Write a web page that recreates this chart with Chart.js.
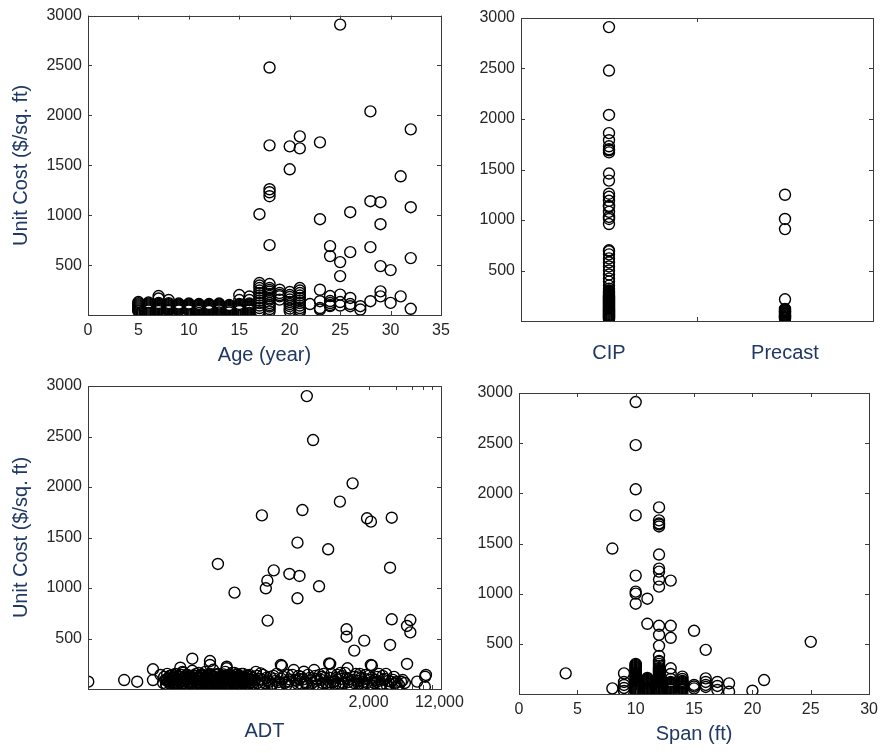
<!DOCTYPE html>
<html>
<head>
<meta charset="utf-8">
<title>Unit cost scatter plots</title>
<script src="https://cdn.jsdelivr.net/npm/chart.js@4.4.0/dist/chart.umd.min.js"></script>
<style>
    body { margin: 0; background: #fff; }
    #wrap { position: relative; width: 884px; height: 753px; }
    #wrap canvas { position: absolute; left: 0; top: 0; }
</style>
</head>
<body>
<div id="wrap">
    <canvas id="ageChart" width="884" height="753"></canvas>
    <canvas id="typeChart" width="884" height="753"></canvas>
    <canvas id="adtChart" width="884" height="753"></canvas>
    <canvas id="spanChart" width="884" height="753"></canvas>
</div>
<script>
// ---- data ----
var costTicks = [500, 1000, 1500, 2000, 2500, 3000];
var ageTicks = [0, 5, 10, 15, 20, 25, 30, 35];
var spanTicks = [0, 5, 10, 15, 20, 25, 30];
var typeLabels = ['CIP', 'Precast'];
var adtTickValues = [2000, 12000];
var adtTickLabels = ['2,000', '12,000'];
var adtMarks = [2000, 4000, 6000, 8000, 10000];

// [age (year), unit cost]
var ageCost = [
    [25,2910],[18,2480],[28,2040],[32,1860],[21,1790],[23,1730],[18,1700],[20,1690],[21,1670],[20,1460],[31,1390],
    [18,1260],[18,1230],[18,1190],[28,1140],[29,1130],[32,1080],[26,1030],[17,1010],[23,960],[29,910],
    [18,700],[24,690],[28,680],[26,630],[24,590],[32,570],[25,530],[29,490],[30,450],[25,390],
    [5,130],[5,118],[5,106],[5,96],[5,86],[5,76],[5,66],[5,56],[5,46],[5,38],
    [6,125],[6,114],[6,104],[6,94],[6,84],[6,74],[6,64],[6,54],[6,44],[6,20],
    [7,190],[7,165],[7,120],[7,110],[7,100],[7,90],[7,80],[7,70],[7,60],[7,50],[7,40],
    [8,150],[8,118],[8,108],[8,98],[8,88],[8,78],[8,68],[8,58],[8,48],[8,40],
    [9,115],[9,105],[9,95],[9,85],[9,75],[9,65],[9,55],[9,45],
    [10,115],[10,105],[10,95],[10,85],[10,75],[10,65],[10,55],[10,45],
    [11,110],[11,100],[11,90],[11,80],[11,70],[11,60],[11,50],[11,40],[11,20],
    [12,110],[12,100],[12,90],[12,80],[12,70],[12,60],[12,50],[12,40],
    [13,115],[13,105],[13,95],[13,85],[13,75],[13,65],[13,55],[13,45],[13,25],
    [14,100],[14,90],[14,80],[14,70],[14,60],[14,50],[14,40],[14,25],
    [15,200],[15,150],[15,110],[15,100],[15,90],[15,80],[15,70],[15,60],[15,50],[15,40],
    [16,185],[16,150],[16,115],[16,105],[16,95],[16,85],[16,75],[16,65],[16,55],[16,45],[16,20],
    [17,320],[17,295],[17,270],[17,245],[17,220],[17,195],[17,170],[17,145],[17,120],[17,95],[17,70],[17,45],[17,25],
    [18,310],[18,270],[18,250],[18,233],[18,210],[18,190],[18,170],[18,154],[18,120],[18,100],[18,85],[18,60],[18,35],
    [19,253],[19,220],[19,200],[19,187],[19,154],
    [20,230],[20,200],[20,180],[20,155],[20,130],[20,110],[20,90],[20,65],[20,40],
    [21,270],[21,245],[21,220],[21,195],[21,170],[21,145],[21,120],[21,95],[21,70],[21,50],[21,30],
    [22,110],[23,253],[23,138],[23,70],[23,55],[24,190],[24,140],[24,120],[24,100],[24,90],
    [25,204],[25,130],[25,95],[26,171],[26,110],[26,88],[27,88],[27,55],[28,138],[29,237],[29,187],[30,121],[31,187],[32,62]
];

// unit cost by construction type
var cipCost = [2910, 2480, 2040, 1860, 1790, 1730, 1700, 1690, 1670, 1460, 1390, 1260, 1230, 1190, 1140, 1130,
    1080, 1030, 1010, 960, 700, 690, 660, 620, 580, 540, 500, 460, 420, 390, 350, 320,
    300, 290, 280, 270, 260, 250, 240, 230, 220, 210, 200, 190, 180, 170, 160, 150, 140, 130, 120, 110,
    100, 90, 80, 70, 60, 50, 40, 30, 20];
var precastCost = [1250, 1010, 910, 215, 120, 112, 104, 96, 88, 80, 72, 64, 56, 48, 40, 32, 25];

// [ADT, unit cost]
var adtCost = [
    [418,2900],[490,2465],[1333,2036],[966,1855],[374,1772],[134,1719],[1920,1690],[2120,1657],[3590,1696],
    [330,1449],[718,1383],[44,1238],[3440,1201],[181,1175],[269,1139],[347,1119],[154,1073],[148,997],[570,1017],
    [67,954],[330,898],[155,677],[3590,690],[5750,683],[5290,624],[5750,561],[1144,591],[1144,518],[1790,479],
    [1390,380],[3440,436],[5290,248],[2170,231],[755,248],[222,228],
    [1.65,72],[4.1,89],[5.7,72],[8.5,195],[8.5,89],[10.3,139],[12.6,89],[17,211],[23,300],[36,277],[36,238],
    [55,221],[55,205],[72,10],
    [12,90],[12,40],[13,130],[14,60],[14,110],[15,30],[15,150],[16,80],[17,120],[18,50],[18,170],[19,100],
    [20,30],[20,140],[21,70],[22,110],[23,40],[23,180],[24,90],[25,130],[26,60],[27,20],[27,160],[28,100],
    [29,50],[30,130],[31,80],[32,30],[32,170],[33,110],[35,60],[36,140],[37,90],[38,30],[39,190],[40,120],
    [42,70],[43,40],[44,150],[46,100],[47,20],[48,60],[50,130],[52,90],[53,170],[55,40],[56,110],[58,70],
    [60,140],[62,30],[63,100],[65,60],[67,160],[69,110],[70,40],[72,80],[74,130],[76,20],[78,90],[80,150],
    [83,60],[85,110],[88,30],[90,80],[93,130],[96,50],[100,100],[104,70],[108,30],
    [11,60],[11.3,120],[11.6,90],[11.9,40],[12.2,150],[12.5,75],[12.8,105],[13.1,50],[13.5,135],[13.8,85],
    [14.2,30],[14.5,115],[14.9,65],[15.3,145],[15.7,95],[16.1,45],[16.5,125],[16.9,70],[17.3,100],[17.8,55],
    [18.2,160],[18.7,80],[19.2,110],[19.7,35],[20.2,140],[20.7,90],[21.2,60],[21.8,130],[22.3,75],[22.9,45],
    [23.5,115],[24.1,100],[24.7,50],[25.3,150],[26,85],[26.6,65],[27.3,125],[28,40],[28.7,105],[29.5,70],
    [30.2,140],[31,95],[31.8,55],[32.6,120],[33.4,80],[34.3,35],[35.2,110],[36.1,150],[37,60],[37.9,90],
    [38.9,130],[39.9,45],[40.9,100],[42,75],[43,145],[44.1,55],[45.3,115],[46.4,85],[47.6,40],[48.9,125],
    [50.1,65],[51.4,105],[52.7,30],[54.1,135],[55.5,95],[56.9,50],[58.4,120],[59.9,70],[61.4,110],[63,160],
    [64.6,80],[66.3,45],[68,100],[69.7,140],[71.5,60],[73.4,90],[75.3,125],[77.2,35],[79.2,115],[81.2,75],
    [83.3,150],[85.4,55],[87.6,105],[89.9,85],[92.2,130],[94.6,40],[97,95],[99.5,65],[102,120],[105,50],[108,110],
    [13.3,70],[14,140],[15,100],[16.3,55],[17.5,140],[19,75],[20.5,115],[22,50],[23.8,135],[25,80],
    [26.3,105],[27.7,55],[29,145],[30.6,70],[32.2,100],[33.8,135],[35.7,45],[37.5,115],[39.4,75],[41.5,140],
    [43.6,95],[45.8,30],[48.2,105],[50.8,145],[53.4,55],[56.2,130],[59,85],[62,120],[65.5,95],[69,65],
    [72.5,145],[76.2,100],[80,45],[84.3,125],[88.7,100],[93.4,70],[98,140],[103,90],
    [115,170],[120,60],[130,155],[135,90],[140,30],[150,110],[160,70],[170,40],[180,130],[190,80],[200,20],
    [217,238],[220,100],[240,60],[260,140],[280,30],[300,188],[310,90],[330,50],[360,120],[388,171],[400,70],
    [420,30],[450,110],[480,60],[503,188],[520,130],[560,40],[600,90],[640,150],[680,60],[735,254],[750,110],
    [800,30],[850,80],[900,140],[950,50],[1000,100],[1100,160],[1172,205],[1200,70],[1300,30],[1400,120],
    [1500,80],[1600,150],[1700,40],[1800,100],[1900,60],[2000,130],[2118,238],[2200,30],[2400,90],[2600,150],
    [2800,50],[3000,100],[3200,30],[3520,72],[3800,120],[4070,70],[4070,20],[4550,72],[4740,89],[6820,73],
    [8300,23],[8360,122],[8530,139],
    [112,90],[118,130],[125,45],[128,100],[138,140],[145,60],[155,85],[165,120],[175,50],[185,100],[195,150],
    [205,70],[230,120],[250,40],[270,95],[290,140],[320,80],[340,130],[370,45],[380,95],[430,140],[470,85],
    [490,30],[540,100],[580,140],[620,60],[660,110],[700,40],[780,150],[820,70],[880,110],[920,40],[980,160],
    [1050,60],[1150,110],[1250,40],[1350,90],[1450,150],[1550,50],[1650,110],[1750,70],[1850,140],[1950,30],
    [2050,90],[2300,60],[2500,120],[2700,40],[2900,90],[3100,150],[3400,50],[3700,90],[4300,40],[5000,60],
    [210,45],[265,75],[350,100],[410,55],[530,80],[610,120],[760,65],[860,45],[1020,130],[1200,95],
    [1380,60],[1580,125],[1780,45],[2150,110],[2450,70],[2850,130],[3300,80],[3900,55]
];

// [span (ft), unit cost]
var spanCost = [
    [10,2910],[10,2480],[10,2040],[12,1860],[10,1780],[12,1730],[12,1700],[12,1690],[12,1670],[8,1450],[12,1390],
    [12,1250],[12,1220],[10,1180],[12,1140],[13,1130],[12,1070],[10,1020],[10,1000],[11,950],[10,900],
    [11,700],[12,680],[13,680],[15,630],[12,590],[13,560],[25,520],[12,480],[16,440],[12,380],
    [4,206],[8,56],[9,206],[9,120],[9,90],[9,60],[9,30],
    [10,300],[10,290],[10,280],[10,270],[10,260],[10,250],[10,240],[10,230],[10,220],[10,210],[10,200],
    [10,190],[10,180],[10,170],[10,160],[10,150],[10,140],[10,130],[10,120],[10,110],[10,100],[10,90],
    [10,80],[10,70],[10,60],[10,50],[10,40],[10,30],
    [11,160],[11,150],[11,140],[11,130],[11,120],[11,110],[11,100],[11,90],[11,80],[11,70],[11,60],
    [11,50],[11,40],[11,30],[11,10],
    [12,330],[12,320],[12,300],[12,280],[12,260],[12,250],[12,240],[12,230],[12,220],[12,210],[12,200],
    [12,190],[12,180],[12,170],[12,160],[12,150],[12,140],[12,130],[12,120],[12,110],[12,100],[12,90],
    [12,80],[12,70],[12,60],[12,50],[12,40],[12,30],[12,10],
    [13,256],[13,200],[13,150],[13,120],[13,110],[13,100],[13,90],[13,80],[13,70],[13,60],[13,50],[13,40],[13,20],
    [14,173],[14,150],[14,130],[14,120],[14,110],[14,100],[14,90],[14,80],[14,70],[14,60],[14,50],[14,40],[14,7],
    [15,90],[15,75],[15,56],[16,156],[16,120],[16,90],[16,70],[17,120],[17,80],[17,40],[18,106],[18,23],
    [20,33],[21,139]
];

// ---- styling ----
var fontFamily = '"Liberation Sans", Arial, sans-serif';
var tickColor = '#262626';
var titleColor = '#1F3864';
var tickFont = { family: fontFamily, size: 16 };
var titleFont = { family: fontFamily, size: 20 };

Chart.defaults.font.family = fontFamily;
Chart.defaults.animation = false;

// box around the plot with small inward tick marks on all sides
var framePlugin = {
    id: 'frame',
    afterDraw: function (chart, args, opts) {
        var a = chart.chartArea;
        var ctx = chart.ctx;
        var xs = chart.scales.x, ys = chart.scales.y;
        ctx.save();
        ctx.strokeStyle = '#3a3a3a';
        ctx.lineWidth = 1;
        ctx.strokeRect(Math.round(a.left) + 0.5, Math.round(a.top) + 0.5,
            Math.round(a.right - a.left), Math.round(a.bottom - a.top));
        ctx.beginPath();
        (opts.xMarks || []).forEach(function (v) {
            var px = Math.round(xs.getPixelForValue(v)) + 0.5;
            ctx.moveTo(px, a.top); ctx.lineTo(px, a.top + 4);
            ctx.moveTo(px, a.bottom); ctx.lineTo(px, a.bottom - 4);
        });
        (opts.yMarks || []).forEach(function (v) {
            var py = Math.round(ys.getPixelForValue(v)) + 0.5;
            ctx.moveTo(a.left, py); ctx.lineTo(a.left + 4, py);
            ctx.moveTo(a.right, py); ctx.lineTo(a.right - 4, py);
        });
        ctx.stroke();
        ctx.restore();
    }
};

function pairsToPoints(list) {
    return list.map(function (p) { return { x: p[0], y: p[1] }; });
}

function dataset(points) {
    return {
        data: points,
        pointRadius: 5.5,
        pointHoverRadius: 5.5,
        pointBorderWidth: 1.4,
        pointBorderColor: '#000',
        pointBackgroundColor: 'rgba(0,0,0,0)'
    };
}

function costAxis(width, withTitle) {
    return {
        min: 0, max: 3000, bounds: 'data',
        afterBuildTicks: function (s) { s.ticks = costTicks.map(function (v) { return { value: v }; }); },
        afterFit: function (s) { s.width = width; },
        grid: { display: false, drawTicks: false },
        border: { display: false },
        ticks: { color: tickColor, font: tickFont, padding: 6, callback: function (v) { return String(v); } },
        title: { display: withTitle, text: 'Unit Cost ($/sq. ft)', color: titleColor, font: titleFont, padding: { top: 9, bottom: 0 } }
    };
}

function baseAxis(height, padding, titleText) {
    return {
        bounds: 'data',
        afterFit: function (s) { s.height = height; },
        grid: { display: false, drawTicks: false },
        border: { display: false },
        ticks: { color: tickColor, font: tickFont, padding: padding, autoSkip: false, maxRotation: 0 },
        title: { display: !!titleText, text: titleText || '', color: titleColor, font: titleFont, padding: { top: 0, bottom: 0 } }
    };
}

function makeChart(id, points, xAxis, yAxis, pad, marks) {
    return new Chart(document.getElementById(id), {
        type: 'scatter',
        data: { datasets: [dataset(points)] },
        options: {
            responsive: false,
            layout: { padding: pad },
            scales: { x: xAxis, y: yAxis },
            plugins: {
                legend: { display: false },
                tooltip: { enabled: false },
                frame: marks
            }
        },
        plugins: [framePlugin]
    });
}

// Age
var ageX = baseAxis(52, 6, 'Age (year)');
ageX.min = 0; ageX.max = 35;
ageX.afterBuildTicks = function (s) { s.ticks = ageTicks.map(function (v) { return { value: v }; }); };
makeChart('ageChart', pairsToPoints(ageCost), ageX, costAxis(88, true),
    { left: 0, top: 13, right: 443, bottom: 386 }, { xMarks: ageTicks, yMarks: costTicks });

// Construction type
var typeX = baseAxis(50, 20, '');
typeX.min = 0.5; typeX.max = 2.5;
typeX.afterBuildTicks = function (s) { s.ticks = typeLabels.map(function (l, i) { return { value: i + 1 }; }); };
typeX.ticks.font = titleFont;
typeX.ticks.color = titleColor;
typeX.ticks.callback = function (v, i) { return typeLabels[i]; };
var typePoints = cipCost.map(function (v) { return { x: 1, y: v }; })
    .concat(precastCost.map(function (v) { return { x: 2, y: v }; }));
makeChart('typeChart', typePoints, typeX, costAxis(60, false),
    { left: 461, top: 18, right: 11, bottom: 382 }, { xMarks: [1.5], yMarks: costTicks });

// ADT (log axis)
var adtX = baseAxis(54, 4, 'ADT');
adtX.type = 'logarithmic';
adtX.min = 1.64; adtX.max = 12500;
adtX.afterBuildTicks = function (s) { s.ticks = adtTickValues.map(function (v) { return { value: v }; }); };
adtX.ticks.callback = function (v, i) { return adtTickLabels[i]; };
makeChart('adtChart', pairsToPoints(adtCost), adtX, costAxis(88, true),
    { left: 0, top: 386, right: 443, bottom: 10 }, { xMarks: adtMarks, yMarks: costTicks });

// Span
var spanX = baseAxis(52, 6, 'Span (ft)');
spanX.min = 0; spanX.max = 30;
spanX.afterBuildTicks = function (s) { s.ticks = spanTicks.map(function (v) { return { value: v }; }); };
makeChart('spanChart', pairsToPoints(spanCost), spanX, costAxis(60, false),
    { left: 459, top: 393, right: 11, bottom: 7 }, { xMarks: spanTicks, yMarks: costTicks });
</script>
</body>
</html>
